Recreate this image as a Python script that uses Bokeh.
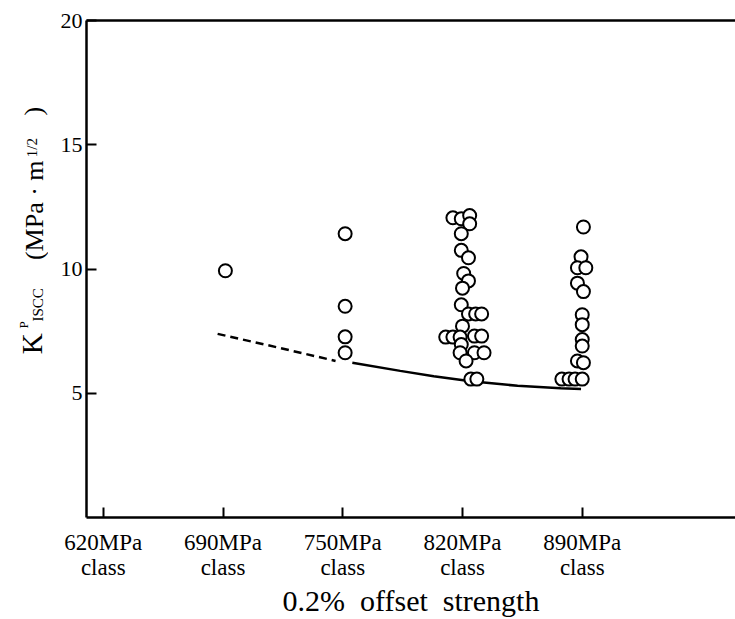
import math
from bokeh.plotting import figure
from bokeh.layouts import row
from bokeh.models import FixedTicker, LinearAxis, Label, Range1d, ColumnDataSource
from bokeh.embed import file_html
from bokeh.resources import INLINE

# ---- data ----
classes = ["620MPa\nclass", "690MPa\nclass", "750MPa\nclass", "820MPa\nclass", "890MPa\nclass"]
y_ticks = [5, 10, 15, 20]

# measured points (x in class-index units, small horizontal spread as in the figure)
pts_x = [1.02,
         2.02, 2.02, 2.02, 2.02,
         2.92, 2.99, 3.06, 3.06, 2.99, 2.99, 3.05, 3.01, 3.05, 3.00, 2.99, 3.05, 3.11, 3.16,
         3.00, 2.86, 2.92, 2.98, 3.10, 3.16, 2.99, 2.98, 3.10, 3.18, 3.03, 3.07, 3.12,
         4.01, 3.99, 3.96, 4.03, 3.96, 4.01, 4.00, 4.00, 4.00, 4.00, 3.96, 4.01, 3.83, 3.89, 3.94, 4.00]
pts_y = [9.93,
         11.42, 8.50, 7.27, 6.63,
         12.06, 12.02, 12.15, 11.82, 11.42, 10.75, 10.45, 9.82, 9.52, 9.23, 8.56, 8.19, 8.19, 8.19,
         7.70, 7.26, 7.26, 7.26, 7.30, 7.30, 6.96, 6.63, 6.63, 6.63, 6.30, 5.57, 5.57,
         11.69, 10.49, 10.05, 10.05, 9.43, 9.09, 8.16, 7.76, 7.16, 6.90, 6.30, 6.23, 5.57, 5.57, 5.57, 5.57]

dash_x = [0.955, 1.45, 1.94]
dash_y = [7.39, 6.85, 6.30]
solid_x = [2.08, 2.48, 2.76, 3.07, 3.46, 3.82, 3.99]
solid_y = [6.23, 5.90, 5.68, 5.48, 5.30, 5.20, 5.17]

x_title = "0.2%\u00a0 offset\u00a0 strength"

# ---- layout ----
FONT = "Liberation Serif"
TOTAL_W, H = 735, 619
YW = 48                      # width of the strip holding the rotated y title
X_START, X_END = -0.14, 5.28
Y_START, Y_END = 0, 20
BL, BT, FH = 86 - YW, 20, 502
W = TOTAL_W - YW
BB = H - BT - FH

p = figure(width=W, height=H, output_backend="svg", toolbar_location=None,
           x_range=Range1d(X_START, X_END), y_range=Range1d(Y_START, Y_END),
           min_border_left=BL, min_border_top=BT, min_border_right=0, min_border_bottom=BB,
           x_axis_location=None, y_axis_location=None)
p.outline_line_color = None
p.grid.visible = False
p.background_fill_color = "white"
p.border_fill_color = "white"

# left axis
ya = LinearAxis(ticker=FixedTicker(ticks=y_ticks))
ya.axis_line_width = 2.5
ya.axis_line_color = "black"
ya.major_tick_in = 10
ya.major_tick_out = 0
ya.major_tick_line_width = 2
ya.minor_tick_line_color = None
ya.major_label_text_font = FONT
ya.major_label_text_font_size = "22px"
ya.major_label_text_color = "black"
ya.major_label_standoff = 4
p.add_layout(ya, "left")

# bottom axis
xa = LinearAxis(ticker=FixedTicker(ticks=list(range(len(classes)))))
xa.major_label_overrides = {i: c for i, c in enumerate(classes)}
xa.axis_line_width = 2.5
xa.axis_line_color = "black"
xa.major_tick_in = 10
xa.major_tick_out = 0
xa.major_tick_line_width = 2
xa.minor_tick_line_color = None
xa.major_label_text_font = FONT
xa.major_label_text_font_size = "23px"
xa.major_label_text_line_height = 1.0
xa.major_label_text_color = "black"
xa.major_label_standoff = 12
xa.axis_label = x_title
xa.axis_label_text_font = FONT
xa.axis_label_text_font_size = "30px"
xa.axis_label_text_font_style = "normal"
xa.axis_label_text_color = "black"
xa.axis_label_standoff = 1
p.add_layout(xa, "below")

# top border line
ta = LinearAxis(ticker=FixedTicker(ticks=[]))
ta.axis_line_width = 2.5
ta.axis_line_color = "black"
ta.major_tick_line_color = None
ta.minor_tick_line_color = None
p.add_layout(ta, "above")

# curves
p.line(dash_x, dash_y, line_color="black", line_width=2.5, line_dash="8 5")
p.line(solid_x, solid_y, line_color="black", line_width=2.5)

# points
src = ColumnDataSource(dict(x=pts_x, y=pts_y))
p.scatter("x", "y", source=src, marker="circle", size=13, fill_color="white",
          line_color="black", line_width=2)

# ---- rotated y title strip: frame aligned with the main frame, x in pixels ----
q = figure(width=YW, height=H, output_backend="svg", toolbar_location=None,
           x_range=Range1d(0, YW), y_range=Range1d(Y_START, Y_END),
           min_border_left=0, min_border_right=0, min_border_top=BT, min_border_bottom=BB,
           x_axis_location=None, y_axis_location=None)
q.outline_line_color = None
q.grid.visible = False
q.border_fill_color = "white"
q.background_fill_color = "white"

PPY = FH / (Y_END - Y_START)


def dy(py):
    return Y_START + (BT + FH - py) / PPY


rot = math.pi / 2
# (text, glyph baseline x in px, start y in px, font size in px)
pieces = [
    ("K", 40, 357, 29),
    ("P", 27, 331, 13),
    ("ISCC", 42, 324, 15),
    ("(MPa \u00b7 m", 42, 262, 26),
    ("1/2", 36, 158, 15),
    (")", 41, 116, 26),
]
for txt, bx, by, fs in pieces:
    q.add_layout(Label(x=bx - 0.31 * fs, y=dy(by), text=txt, angle=rot, text_font=FONT,
                       text_font_size=f"{fs}px", text_align="left",
                       text_baseline="alphabetic", text_color="black"))

layout = row(q, p)
open("out.html", "w").write(file_html(layout, INLINE))
